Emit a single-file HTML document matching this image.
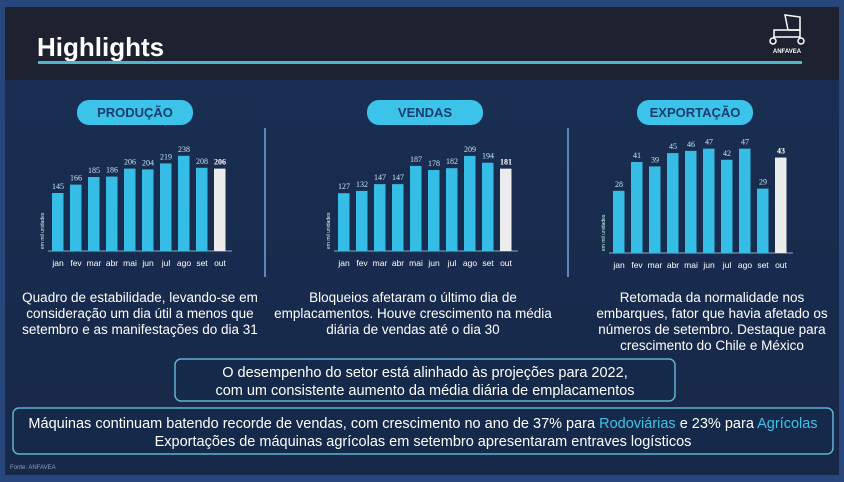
<!DOCTYPE html>
<html><head><meta charset="utf-8"><style>
html,body{margin:0;padding:0;width:844px;height:482px;overflow:hidden;background:#26467c;font-family:"Liberation Sans",sans-serif}
svg{display:block}
</style></head><body>
<svg id="s" width="844" height="482" viewBox="0 0 844 482">
<defs>
<linearGradient id="bg" x1="0" y1="0" x2="0" y2="1"><stop offset="0" stop-color="#1a2f55"/><stop offset="1" stop-color="#172848"/></linearGradient>
</defs>
<rect x="5" y="7" width="834" height="468" fill="url(#bg)"/>
<rect x="5" y="7" width="834" height="73" fill="#1d2130"/>
<text x="37" y="56" fill="#fff" font-size="26" font-weight="bold" font-family="Liberation Sans Narrow, Liberation Sans, sans-serif">Highlights</text>
<rect x="38" y="61" width="764" height="3" fill="#4fb6cc"/>
<g fill="none" stroke="#fff" stroke-width="1.5">
<path d="M785 15 L800 17 L800 30 L788 30 Z"/><rect x="774" y="30" width="26" height="7"/><circle cx="773" cy="41" r="3"/><circle cx="801" cy="41" r="3"/>
<text x="787" y="53" fill="#fff" stroke="none" font-size="6" font-weight="bold" text-anchor="middle">ANFAVEA</text>
</g>
<line x1="265" y1="128" x2="265" y2="277" stroke="#5d86b0" stroke-width="2"/>
<line x1="568" y1="128" x2="568" y2="277" stroke="#5d86b0" stroke-width="2"/>
<g id="charts"></g>
<g font-size="13.5" fill="#fff" text-anchor="middle" font-family="Liberation Sans Narrow, Liberation Sans, sans-serif">
<text x="140" y="302"><tspan x="140">Quadro de estabilidade, levando-se em</tspan><tspan x="140" dy="16">consideração um dia útil a menos que</tspan><tspan x="140" dy="16">setembro e as manifestações do dia 31</tspan></text>
<text x="413" y="302"><tspan x="413">Bloqueios afetaram o último dia de</tspan><tspan x="413" dy="16">emplacamentos. Houve crescimento na média</tspan><tspan x="413" dy="16">diária de vendas até o dia 30</tspan></text>
<text x="712" y="302"><tspan x="712">Retomada da normalidade nos</tspan><tspan x="712" dy="16">embarques, fator que havia afetado os</tspan><tspan x="712" dy="16">números de setembro. Destaque para</tspan><tspan x="712" dy="16">crescimento do Chile e México</tspan></text>
</g>
<rect x="175" y="359" width="500" height="42" rx="6" fill="#15294a" stroke="#5fb3cf" stroke-width="1.5"/>
<g font-size="14.5" fill="#fff" text-anchor="middle" font-family="Liberation Sans Narrow, Liberation Sans, sans-serif">
<text x="425" y="377">O desempenho do setor está alinhado às projeções para 2022,</text>
<text x="425" y="395">com um consistente aumento da média diária de emplacamentos</text>
</g>
<rect x="13" y="408" width="820" height="46" rx="6" fill="#15294a" stroke="#5fb3cf" stroke-width="1.5"/>
<g font-size="14.5" fill="#fff" text-anchor="middle" font-family="Liberation Sans Narrow, Liberation Sans, sans-serif">
<text x="423" y="428">Máquinas continuam batendo recorde de vendas, com crescimento no ano de 37% para <tspan fill="#3fc3e8">Rodoviárias</tspan> e 23% para <tspan fill="#3fc3e8">Agrícolas</tspan></text>
<text x="423" y="446">Exportações de máquinas agrícolas em setembro apresentaram entraves logísticos</text>
</g>
<text x="10" y="469" fill="#8aa0c0" font-size="6">Fonte: ANFAVEA</text>
</svg>
<script>
const months=["jan","fev","mar","abr","mai","jun","jul","ago","set","out"];
const producaoValues=[145,166,185,186,206,204,219,238,208,206];
const vendasValues=[127,132,147,147,187,178,182,209,194,181];
const exportacaoValues=[28,41,39,45,46,47,42,47,29,43];
const NS="http://www.w3.org/2000/svg";
const root=document.getElementById('charts');
function mk(tag,attrs,parent){const e=document.createElementNS(NS,tag);for(const k in attrs)e.setAttribute(k,attrs[k]);parent.appendChild(e);return e;}
function chart(key,title,vals,x0,baseY,scale,pill){
  const g=mk('g',{},root);
  
  
  const pr=mk('rect',{x:pill[0],y:100,width:pill[1]-pill[0],height:25,rx:12,fill:'#3cc3ea'},g);
  
  
  const pt=mk('text',{x:(pill[0]+pill[1])/2,y:117,'text-anchor':'middle','font-size':13,'font-weight':'bold',fill:'#1b3c6e','font-family':'Liberation Sans Narrow, Liberation Sans, sans-serif'},g);
  pt.textContent=title;
  
  
  const ax=mk('line',{x1:x0-4,y1:baseY,x2:x0+18*10,y2:baseY,stroke:'#8fa6c6','stroke-width':1},g);
  
  
  const yt=mk('text',{x:0,y:0,'font-size':5,fill:'#cfe','transform':`translate(${x0-8},${baseY-2}) rotate(-90)`},g);
  yt.textContent='em mil unidades';
  
  
  vals.forEach((v,i)=>{
    const x=x0+i*18,h=v*scale,last=i===vals.length-1;
    const r=mk('rect',{x:x,y:baseY-h,width:11.5,height:h,fill:last?'#ececec':'#35bde6'},g);
    
    
    const t=mk('text',{x:x+6,y:baseY-h-4,'text-anchor':'middle','font-size':8,fill:last?'#fff':'#bfe9f5','font-weight':last?'bold':'normal','font-family':'Liberation Serif, serif'},g);
    t.textContent=v;
    
    
    const m=mk('text',{x:x+6,y:baseY+15,'text-anchor':'middle','font-size':8.5,fill:'#fff','font-family':'Liberation Sans Narrow, Liberation Sans, sans-serif'},g);
    m.textContent=months[i];
    
    
  });
}
chart('producao','PRODUÇÃO',producaoValues,52,251,0.4,[77,193]);
chart('vendas','VENDAS',vendasValues,338,251,0.455,[367,483]);
chart('exportacao','EXPORTAÇÃO',exportacaoValues,613,253,2.22,[637,753]);
</script>
</body></html>
